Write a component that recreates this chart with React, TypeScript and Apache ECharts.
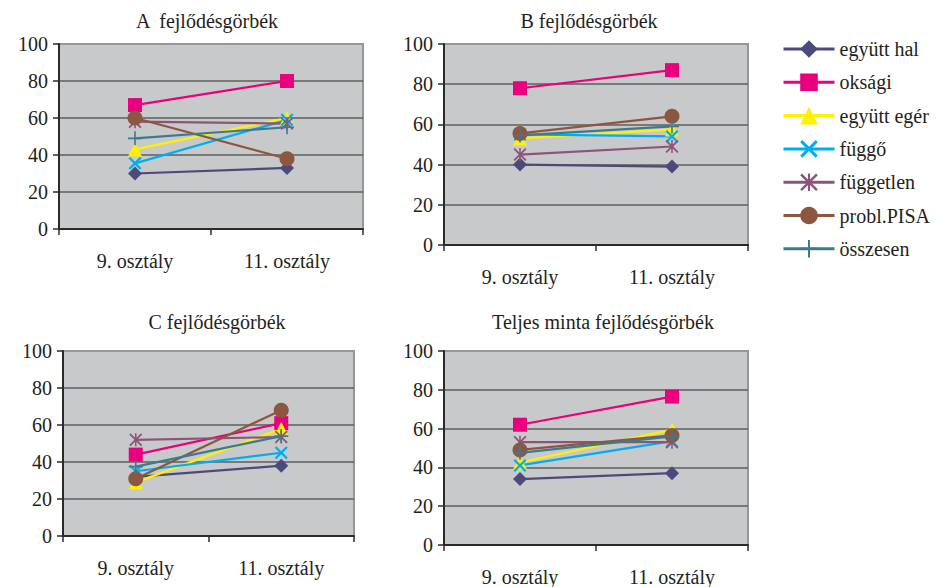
import React, { useEffect, useRef } from "react";
import * as echarts from "echarts";

const categories = ["9. osztály", "11. osztály"];
const seriesNames = ["együtt hal", "oksági", "együtt egér", "függő", "független", "probl.PISA", "összesen"];
const panelTitles = ["A  fejlődésgörbék", "B fejlődésgörbék", "C fejlődésgörbék", "Teljes minta fejlődésgörbék"];
const yTicks = [0, 20, 40, 60, 80, 100];

// values per series (order as seriesNames): [9. osztály, 11. osztály]
const panelA = [[30, 33], [67, 80], [43, 60], [35.5, 59], [58, 57], [60, 38], [49, 55]];
const panelB = [[40, 39], [78, 87], [53, 57.5], [55, 54], [45, 49], [55.5, 64], [54.5, 59]];
const panelC = [[32, 38], [44, 61], [29, 58], [35, 45], [52, 53.5], [31, 68], [37.5, 54]];
const panelD = [[34, 37], [62, 76.5], [42.5, 59.5], [41, 53.5], [53, 53], [49, 56.5], [47.5, 56]];

const colors = ["#4B4A7C", "#E8007F", "#FFF200", "#00ADEF", "#8E5478", "#8C5640", "#3B7B8E"];
const X_PATH = "path://M0,1.2 L1.2,0 L5,3.8 L8.8,0 L10,1.2 L6.2,5 L10,8.8 L8.8,10 L5,6.2 L1.2,10 L0,8.8 L3.8,5 Z";
const STAR_PATH = "path://M0,1 L1,0 L5,4 L9,0 L10,1 L6,5 L10,9 L9,10 L5,6 L1,10 L0,9 L4,5 Z M4.4,0 L5.6,0 L5.6,10 L4.4,10 Z";
const PLUS_PATH = "path://M6.2,0 L7.8,0 L7.8,6.2 L14,6.2 L14,7.8 L7.8,7.8 L7.8,14 L6.2,14 L6.2,7.8 L0,7.8 L0,6.2 L6.2,6.2 Z";
const symbols = ["diamond", "rect", "triangle", X_PATH, STAR_PATH, "circle", PLUS_PATH];
const symbolSizes = [14, 14, 14, 13, 13, 15, 14];

const FONT = "'Liberation Serif', 'Times New Roman', serif";
const TEXT = "#231F20";

export default function App() {
  const ref = useRef<HTMLDivElement>(null);
  useEffect(() => {
    document.body.style.margin = "0";
    const chart = echarts.init(ref.current!, undefined, { renderer: "svg" });
    const panels = [panelA, panelB, panelC, panelD];
    const grids = [
      { left: 59, top: 44, width: 304, height: 185 },
      { left: 444, top: 44, width: 304, height: 201 },
      { left: 63, top: 351, width: 291, height: 185 },
      { left: 444, top: 351, width: 304, height: 196 },
    ];
    const titlePos = [
      { left: 207, top: 11 },
      { left: 589, top: 11 },
      { left: 217, top: 312 },
      { left: 603, top: 312 },
    ];
    const series: any[] = [];
    panels.forEach((p, gi) => {
      p.forEach((vals, si) => {
        series.push({
          type: "line",
          name: seriesNames[si],
          xAxisIndex: gi,
          yAxisIndex: gi,
          data: vals,
          symbol: symbols[si],
          symbolSize: symbolSizes[si],
          showSymbol: true,
          lineStyle: { color: colors[si], width: 2.2 },
          itemStyle: { color: colors[si] },
          emphasis: { disabled: true },
          silent: true,
        });
      });
    });
    chart.setOption({
      animation: false,
      backgroundColor: "#ffffff",
      title: panelTitles.map((t, i) => ({
        text: t,
        left: titlePos[i].left,
        top: titlePos[i].top,
        textAlign: "center",
        padding: 0,
        textStyle: { fontFamily: FONT, fontSize: 20, fontWeight: "normal", color: TEXT },
      })),
      legend: {
        orient: "vertical",
        left: 782,
        top: 39,
        padding: 0,
        itemWidth: 51,
        itemHeight: 22,
        itemGap: 13.3,
        selectedMode: false,
        data: seriesNames,
        lineStyle: { width: 3 },
        textStyle: { fontFamily: FONT, fontSize: 20, color: TEXT },
      },
      grid: grids.map((g) => ({
        ...g,
        show: true,
        backgroundColor: "#C8C9CB",
        borderColor: "#969696",
        borderWidth: 2,
        containLabel: false,
      })),
      xAxis: grids.map((_, i) => ({
        type: "category",
        gridIndex: i,
        data: categories,
        boundaryGap: true,
        axisLine: { show: true, lineStyle: { color: "#2a2a2a", width: 2 } },
        axisTick: { show: true, length: 6, lineStyle: { color: "#2a2a2a", width: 1.5 } },
        axisLabel: { margin: 22, fontFamily: FONT, fontSize: 20, color: TEXT },
        splitLine: { show: false },
      })),
      yAxis: grids.map((_, i) => ({
        type: "value",
        gridIndex: i,
        min: yTicks[0],
        max: yTicks[yTicks.length - 1],
        interval: 20,
        axisLine: { show: true, lineStyle: { color: "#2a2a2a", width: 2 } },
        axisTick: { show: true, length: 6, lineStyle: { color: "#2a2a2a", width: 1.5 } },
        axisLabel: { margin: 11, fontFamily: FONT, fontSize: 20, color: TEXT },
        splitLine: { show: true, showMaxLine: false, lineStyle: { color: "#5e5e5e", width: 1.6 } },
      })),
      series,
    });
    return () => chart.dispose();
  }, []);
  return <div ref={ref} style={{ width: 937, height: 587 }} />;
}
